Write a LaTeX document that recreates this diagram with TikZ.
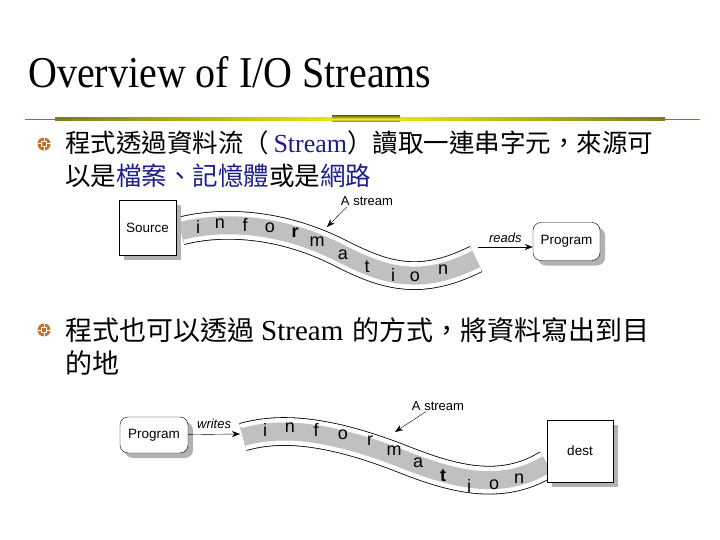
\documentclass[tikz,border=0pt]{standalone}
\usepackage{fontspec}
\usepackage{tikz}
\usetikzlibrary{shadows,arrows.meta}
\setmainfont{Liberation Serif}
\setsansfont{Liberation Sans}
\newfontfamily\cjk{Noto Sans CJK TC}
\definecolor{navytext}{RGB}{30,30,140}
\definecolor{bulletorange}{RGB}{200,110,40}
\definecolor{ruleolive}{RGB}{125,125,25}
\definecolor{ruleyellow}{RGB}{245,240,20}
\definecolor{bandgray}{RGB}{192,192,192}
\definecolor{shadowgray}{RGB}{178,178,178}

\begin{document}
\begin{tikzpicture}[x=1pt,y=-1pt,>={Stealth[length=8pt,width=6pt]},
	box/.style={draw,fill=white,font=\sffamily\fontsize{13.5}{13.5}\selectfont,
		drop shadow={shadow xshift=5pt,shadow yshift=-5pt,fill=shadowgray,opacity=1}},
	letter/.style={font=\sffamily\fontsize{18}{18}\selectfont,inner sep=0pt},
	tag/.style={font=\sffamily\fontsize{13}{13}\selectfont,inner sep=1pt},
	txtline/.style={font=\fontsize{25.5}{33}\selectfont,anchor=base west,inner sep=0pt},
	band/.style={line width=0.8pt,double=white,double distance=27pt},
	bandfill/.style={line width=18pt,bandgray}]
		\useasboundingbox (0,0) rectangle (720,540);

		% title and rule
		\node[anchor=base west,inner sep=0pt,font=\fontsize{40}{40}\selectfont] (title) at (28,88)
			{\scalebox{1}[1.1]{Overview of I/O Streams}};
		\draw[ruleolive,line width=0.8pt] (25,119) -- (700,119);
		\fill[left color=ruleolive,right color=ruleyellow] (55,117.5) rectangle (365,120.5);
		\fill[left color=ruleyellow,right color=ruleolive] (365,117.5) rectangle (665,120.5);
		\fill[top color=ruleolive,bottom color=ruleolive,middle color=ruleyellow] (332,116) rectangle (400,122);

		% bullets
		\foreach \by in {144,330} {
			\fill[bulletorange] (44,\by) circle (6.5pt);
			\draw[white,line width=1pt] (37.5,\by) -- (50.5,\by) (44,\by-6.5) -- (44,\by+6.5);
			\filldraw[fill=bulletorange,draw=white,line width=0.8pt] (41.8,\by-2.2) rectangle (46.2,\by+2.2);
		}
		\node[txtline] (line1a) at (65,153) {\cjk 程式透過資料流（\textcolor{navytext}{\rmfamily\fontsize{26}{33}\selectfont\,Stream}）讀取一連串字元，來源可};
		\node[txtline] (line1b) at (65,186) {\cjk 以是\textcolor{navytext}{檔案、記憶體}或是\textcolor{navytext}{網路}};
		\node[txtline,font=\fontsize{27}{33}\selectfont] (line2a) at (65,340) {\cjk 程式也可以透過\hspace{7pt}{\rmfamily\fontsize{29}{33}\selectfont Stream}\hspace{9pt}的方式，將資料寫出到目};
		\node[txtline,font=\fontsize{27}{33}\selectfont] (line2b) at (65,373) {\cjk 的地};

		% source -> program
		\draw[band] (181,231) .. controls (215,222) and (275,220) .. (340,253) .. controls (385,276) and (420,287) .. (476,259);
		\draw[bandfill] (181,231) .. controls (215,222) and (275,220) .. (340,253) .. controls (385,276) and (420,287) .. (476,259);
		\foreach \ch/\px/\py [count=\k] in {i/198/227,n/220/224,f/245/225,o/270/228,{\bfseries r}/295/233,m/317/242,
			a/343/255,t/367/267,i/393/275,o/415/277,n/443/270}
			\node[letter] (ca\k) at (\px,\py) {\ch};
		\node[box,minimum width=57pt,minimum height=55pt] (source) at (147.5,227.5) {Source};
		\node[box,rounded corners=8pt,minimum width=67pt,minimum height=38pt] (prog1) at (566.5,241.5) {Program};
		\coordinate (end1) at (478,247);
		\draw[->] (end1) -- node[tag,above=3pt] {\itshape reads} (end1 -| prog1.west);
		\node[tag] (stream1) at (367,201) {A stream};
		\coordinate (hit1) at (327,227);
		\draw[->] ([xshift=7pt]stream1.south west) -- (hit1);

		% program -> dest
		\draw[band] (243,437) .. controls (275,428) and (320,427) .. (400,458) .. controls (450,478) and (500,493) .. (547,464);
		\draw[bandfill] (243,437) .. controls (275,428) and (320,427) .. (400,458) .. controls (450,478) and (500,493) .. (547,464);
		\foreach \ch/\px/\py [count=\k] in {i/265/430,n/290/428,f/316/430,o/343/435,r/370/441,m/394/451,
			a/418/463,{\bfseries t}/443/476,i/469/486,o/494/485,n/519/479}
			\node[letter] (cb\k) at (\px,\py) {\ch};
		\node[box,rounded corners=8pt,minimum width=68pt,minimum height=36pt] (prog2) at (154,435) {Program};
		\node[box,minimum width=66pt,minimum height=62pt] (dest) at (580,451) {dest};
		\coordinate (start2) at (240,434);
		\draw[->] (prog2) -- node[tag,above=4pt] {\itshape writes} (start2);
		\node[tag] (stream2) at (438,406) {A stream};
		\coordinate (hit2) at (395,432);
		\draw[->] ([xshift=15pt]stream2.south west) -- (hit2);
	\end{tikzpicture}
\end{document}
